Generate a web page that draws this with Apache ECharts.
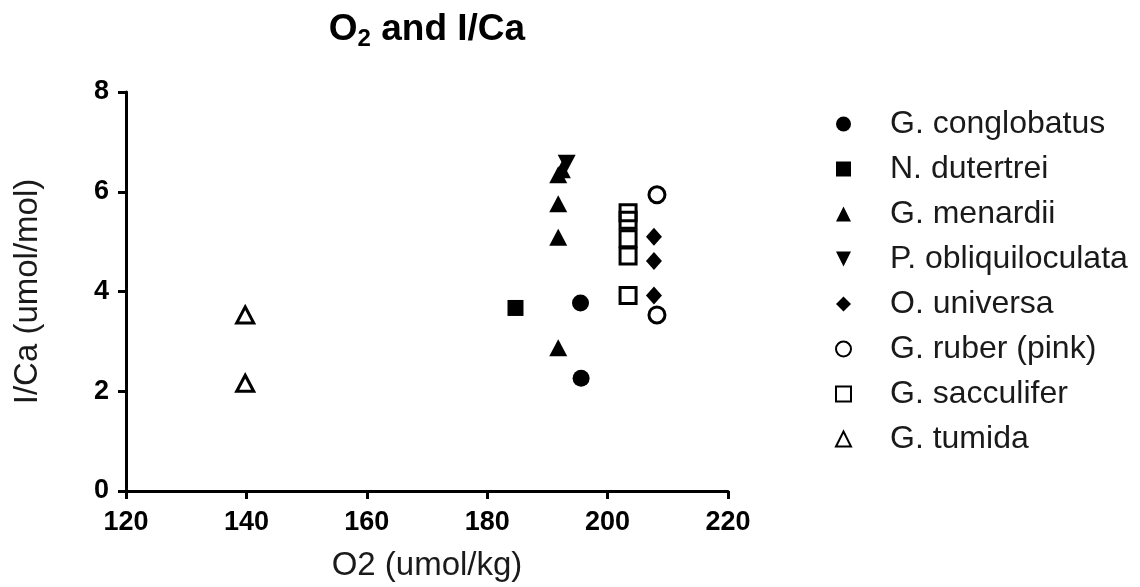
<!DOCTYPE html>
<html>
<head>
<meta charset="utf-8">
<script src="https://cdn.jsdelivr.net/npm/echarts@6/dist/echarts.min.js"></script>
<style>
  html, body { margin: 0; padding: 0; background: #fff; }
  #chart { width: 1140px; height: 587px; }
</style>
</head>
<body>
<div id="chart"></div>
<script>
// Species measured: O2 (umol/kg) vs I/Ca (umol/mol)
const speciesNames = [
  'G. conglobatus', 'N. dutertrei', 'G. menardii', 'P. obliquiloculata',
  'O. universa', 'G. ruber (pink)', 'G. sacculifer', 'G. tumida'
];
const conglobatus     = [[195.5, 3.77], [195.6, 2.26]];
const dutertrei       = [[184.7, 3.67]];
const menardii        = [[191.8, 6.34], [192.4, 6.44], [191.8, 5.76], [191.8, 5.09], [191.8, 2.87]];
const obliquiloculata = [[193.2, 6.57]];
const universa        = [[207.7, 5.10], [207.7, 4.61], [207.7, 3.92]];
const ruberPink       = [[208.2, 5.94], [208.2, 3.53]];
const sacculifer      = [[203.4, 5.58], [203.4, 5.43], [203.4, 5.06], [203.4, 4.71], [203.4, 3.92]];
const tumida          = [[139.8, 3.53], [139.8, 2.16]];

const xTicks = { min: 120, max: 220, step: 20 };
const yTicks = { min: 0, max: 8, step: 2 };

const FONT = "'Liberation Sans', Arial, sans-serif";

const downTriangle = 'path://M0,0 L10,0 L5,10 Z';

function filled(name, data, symbol, size) {
  return {
    name, type: 'scatter', data, symbol, symbolSize: size,
    itemStyle: { color: '#000', opacity: 1 }
  };
}
function hollow(name, data, symbol, size) {
  return {
    name, type: 'scatter', data, symbol, symbolSize: size,
    itemStyle: { color: 'rgba(255,255,255,0)', borderColor: '#000', borderWidth: 3, opacity: 1 }
  };
}

const chart = echarts.init(document.getElementById('chart'), null, { renderer: 'canvas' });

const axisLine = { show: true, onZero: false, lineStyle: { color: '#000', width: 3 } };
const axisTick = { show: true, length: 8, lineStyle: { color: '#000', width: 3 } };
const tickFont = { fontFamily: FONT, fontWeight: 'bold', fontSize: 27, color: '#000' };

chart.setOption({
  animation: false,
  backgroundColor: '#fff',
  graphic: [{
    type: 'text',
    x: 427, y: 9,
    style: {
      text: '{a|O}{s|2}{a| and I/Ca}',
      textAlign: 'center',
      rich: {
        a: { fontFamily: FONT, fontWeight: 'bold', fontSize: 37, fill: '#000', lineHeight: 39 },
        s: { fontFamily: FONT, fontWeight: 'bold', fontSize: 24, fill: '#000', padding: [18, 0, 0, 0] }
      }
    }
  }],
  grid: { left: 126, right: 412, top: 92, bottom: 95, containLabel: false },
  legend: {
    orient: 'vertical',
    left: 830, top: 103,
    itemWidth: 15, itemHeight: 15,
    itemGap: 13,
    data: speciesNames,
    textStyle: { fontFamily: FONT, fontSize: 32, color: '#1a1a1a', padding: [0, 0, 0, 34], lineHeight: 30 },
    selectedMode: false
  },
  xAxis: {
    type: 'value',
    min: xTicks.min, max: xTicks.max, interval: xTicks.step,
    name: 'O2 (umol/kg)', nameLocation: 'middle', nameGap: 58,
    nameTextStyle: { fontFamily: FONT, fontSize: 33, color: '#1a1a1a' },
    axisLine, axisTick,
    axisLabel: Object.assign({ margin: 18 }, tickFont),
    splitLine: { show: false }
  },
  yAxis: {
    type: 'value',
    min: yTicks.min, max: yTicks.max, interval: yTicks.step,
    name: 'I/Ca (umol/mol)', nameLocation: 'middle', nameGap: 82,
    nameTextStyle: { fontFamily: FONT, fontSize: 33, color: '#1a1a1a' },
    axisLine, axisTick,
    axisLabel: Object.assign({ margin: 17 }, tickFont),
    splitLine: { show: false }
  },
  series: [
    filled(speciesNames[0], conglobatus, 'circle', 17),
    filled(speciesNames[1], dutertrei, 'rect', 16),
    filled(speciesNames[2], menardii, 'triangle', [18, 17]),
    filled(speciesNames[3], obliquiloculata, downTriangle, [18, 17]),
    filled(speciesNames[4], universa, 'diamond', [16, 18]),
    hollow(speciesNames[5], ruberPink, 'circle', 16),
    hollow(speciesNames[6], sacculifer, 'rect', 16),
    hollow(speciesNames[7], tumida, 'triangle', [17, 16])
  ]
});
</script>
</body>
</html>
